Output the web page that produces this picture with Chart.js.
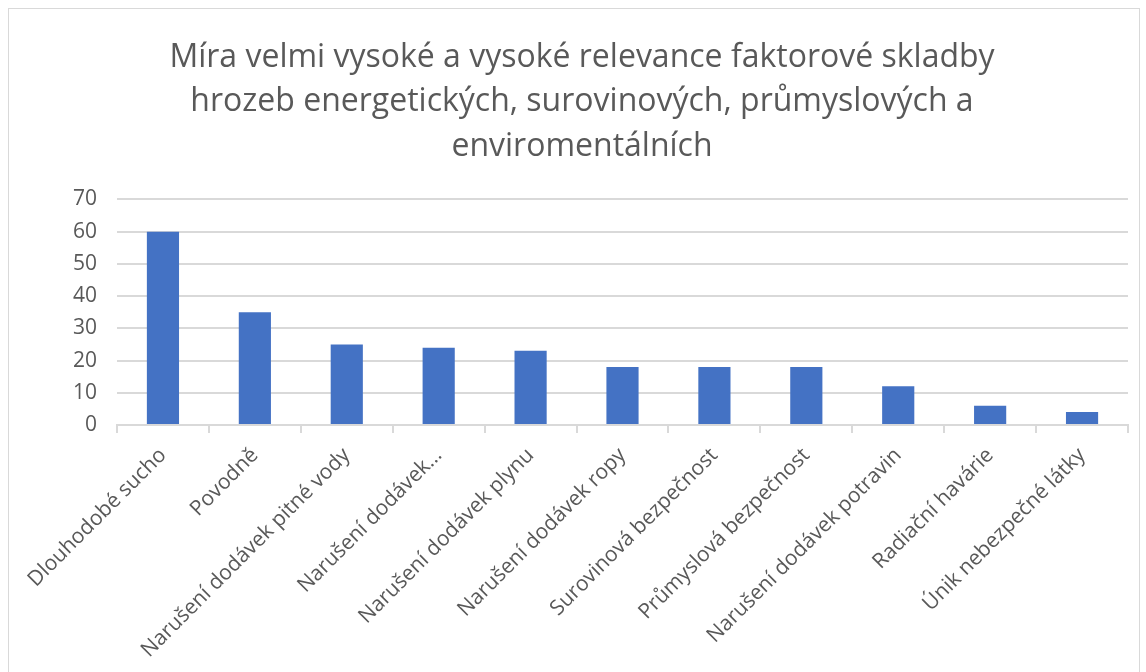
<html>
  <head>
    <script type="text/javascript" src="https://cdn.jsdelivr.net/npm/chart.js@4.4.1/dist/chart.umd.min.js"></script>
    <style>
      body { margin: 0; background: #fff; }
      #wrap { position: absolute; left: 8px; top: 8px; width: 1130px; height: 680px; border: 1px solid #d9d9d9; }
    </style>
  </head>
  <body>
    <div id="wrap">
      <canvas id="chart" width="1130" height="663"></canvas>
    </div>
    <script type="text/javascript">

var title_lines = [
  "Míra velmi vysoké a vysoké relevance faktorové skladby",
  "hrozeb energetických, surovinových, průmyslových a",
  "enviromentálních"
]

var categories = [
  "Dlouhodobé sucho",
  "Povodně",
  "Narušení dodávek pitné vody",
  "Narušení dodávek…",
  "Narušení dodávek plynu",
  "Narušení dodávek ropy",
  "Surovinová bezpečnost",
  "Průmyslová bezpečnost",
  "Narušení dodávek potravin",
  "Radiační havárie",
  "Únik nebezpečné látky"
]

var values = [60, 35, 25, 24, 23, 18, 18, 18, 12, 6, 4]

var y_min = 0
var y_max = 70
var y_step = 10

var grey_text = "#595959"
var grey_line = "#d9d9d9"
var font_family = "'Open Sans', 'Liberation Sans', sans-serif"

var ctx = document.getElementById("chart").getContext("2d")

var config = {
  type: "bar",
  data: {
    labels: categories,
    datasets: [{
      label: "Míra relevance",
      data: values,
      backgroundColor: "#4472c4",
      categoryPercentage: 1.0,
      barPercentage: 0.35
    }]
  },
  options: {
    responsive: false,
    animation: false,
    // left padding nudges the centred title to the right like the original
    layout: { padding: { left: 27, right: 11, top: 0, bottom: 0 } },
    plugins: {
      legend: { display: false },
      tooltip: { enabled: false },
      title: {
        display: true,
        text: title_lines,
        color: grey_text,
        font: { family: font_family, size: 32, weight: "normal", lineHeight: 1.4 },
        padding: { top: 26, bottom: 30 }
      }
    },
    scales: {
      x: {
        grid: { display: true, drawOnChartArea: false, drawTicks: true, tickLength: 8, color: grey_line, lineWidth: 2, offset: true },
        border: { display: true, color: grey_line, width: 2 },
        ticks: {
          color: grey_text,
          font: { family: font_family, size: 21 },
          maxRotation: 45,
          minRotation: 45,
          autoSkip: false,
          padding: 10
        },
        afterFit: function (scale) { scale.height = 247 }
      },
      y: {
        min: y_min,
        max: y_max,
        grid: { color: grey_line, lineWidth: 2, drawTicks: false },
        border: { display: false },
        ticks: {
          stepSize: y_step,
          color: grey_text,
          font: { family: font_family, size: 21 },
          padding: 20
        },
        afterFit: function (scale) { scale.width = 81 }
      }
    }
  }
}

var chart = new Chart(ctx, config)

    </script>
  </body>
</html>
